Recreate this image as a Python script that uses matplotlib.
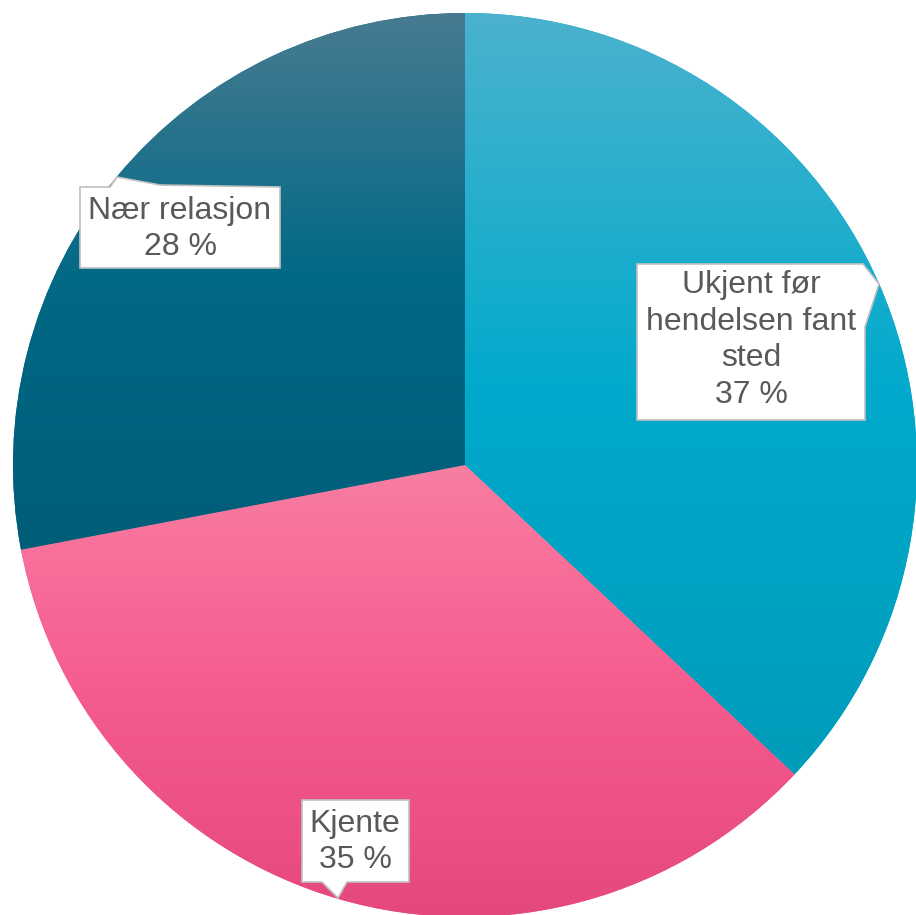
import numpy as np
import matplotlib.pyplot as plt
from matplotlib.colors import to_rgb
from matplotlib.patches import Polygon

plt.rcParams['font.family'] = ['Liberation Sans', 'DejaVu Sans']

# ── Data ──────────────────────────────────────────
labels  = ['Ukjent før\nhendelsen fant\nsted', 'Kjente', 'Nær relasjon']
shares  = [37, 35, 28]

# gradient stops per slice: top, middle, bottom
grad_stops = [
    ['#4bb2ce', '#00aacc', '#009cba'],
    ['#f87ea2', '#f65b8f', '#e4487f'],
    ['#487b91', '#006985', '#005d78'],
]

W, H = 916, 915
CX, CY, R = 465, 465, 452


def fy(y):
    # image row -> data y
    return H - y


fig = plt.figure(figsize=(W / 100, H / 100), dpi=100)
ax = fig.add_axes([0, 0, 1, 1])

wedges, _ = ax.pie(shares, center=(CX, fy(CY)), radius=R, startangle=90,
                   counterclock=False, frame=True,
                   wedgeprops=dict(linewidth=0))
ax.set_xlim(0, W)
ax.set_ylim(0, H)
ax.set_aspect('equal')
ax.axis('off')

for w, stops in zip(wedges, grad_stops):
    ext = w.get_path().get_extents()
    top, mid, bot = [np.array(to_rgb(c)) for c in stops]
    t = np.linspace(0, 1, 256)[:, None]
    col = np.where(t < 0.5, top + (mid - top) * (t / 0.5),
                   mid + (bot - mid) * ((t - 0.5) / 0.5))
    w.set_facecolor(mid)
    im = ax.imshow(col[:, None, :], extent=(ext.x0, ext.x1, ext.y0, ext.y1),
                   origin='upper', aspect='auto', zorder=2)
    im.set_clip_path(w)

# ── Callout boxes ─────────────────────────────────
# (outline in image px, text centre)
callouts = [
    ([(637, 264), (863, 264), (879, 284), (865, 327), (865, 420), (637, 420)], (751, 340)),
    ([(302, 800), (409, 800), (409, 882), (347, 882), (338, 898), (322, 882), (302, 882)], (355, 842)),
    ([(80, 187), (110, 187), (117, 177), (160, 185), (280, 187), (280, 268), (80, 268)], (180, 229)),
]

for (outline, (tx, ty)), lab, val in zip(callouts, labels, shares):
    pts = [(x, fy(y)) for x, y in outline]
    ax.add_patch(Polygon(pts, closed=True, facecolor='white',
                         edgecolor='#c0c0c0', linewidth=1.2, zorder=3))
    ax.text(tx, fy(ty), f'{lab}\n{val} %', ha='center', va='center',
            fontsize=23, color='#595959', linespacing=1.29, zorder=4)

plt.savefig('out.png', dpi=100)
